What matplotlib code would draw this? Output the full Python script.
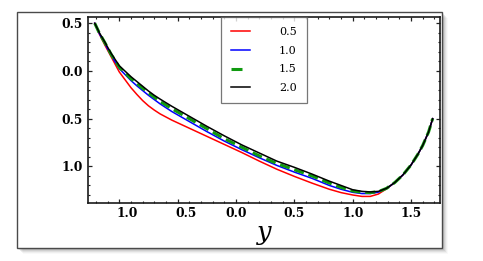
import matplotlib
matplotlib.use("Agg")
import matplotlib.pyplot as plt
from matplotlib.patches import Rectangle
from matplotlib.ticker import MultipleLocator
import matplotlib.transforms as mtransforms

# ---------------- data ----------------
x = [-1.21, -1.17, -1.125, -1.07, -1.0, -0.9, -0.85, -0.8, -0.75, -0.7, -0.65, -0.55,
     -0.4, -0.25, -0.1, 0.05, 0.2, 0.35, 0.5, 0.65, 0.8, 0.9, 1.0, 1.08, 1.15, 1.22,
     1.29, 1.36, 1.43, 1.5, 1.56, 1.6, 1.65, 1.685]

y_05 = [0.50, 0.385, 0.275, 0.15, -0.01, -0.175, -0.245, -0.31, -0.365, -0.41, -0.45, -0.515,
        -0.60, -0.685, -0.77, -0.855, -0.945, -1.03, -1.105, -1.175, -1.24, -1.275, -1.30,
        -1.315, -1.315, -1.29, -1.235, -1.17, -1.09, -0.985, -0.87, -0.78, -0.64, -0.50]
y_10 = [0.50, 0.39, 0.29, 0.165, 0.025, -0.10, -0.155, -0.205, -0.255, -0.30, -0.345, -0.425,
        -0.53, -0.635, -0.735, -0.825, -0.91, -0.99, -1.06, -1.125, -1.20, -1.24, -1.272,
        -1.285, -1.285, -1.27, -1.232, -1.17, -1.09, -0.985, -0.87, -0.78, -0.64, -0.50]
y_15 = [0.50, 0.395, 0.30, 0.175, 0.04, -0.08, -0.13, -0.18, -0.23, -0.275, -0.32, -0.395,
        -0.50, -0.605, -0.71, -0.80, -0.89, -0.97, -1.035, -1.10, -1.175, -1.22, -1.258,
        -1.272, -1.275, -1.265, -1.23, -1.17, -1.09, -0.985, -0.87, -0.78, -0.64, -0.50]
y_20 = [0.50, 0.40, 0.305, 0.185, 0.055, -0.06, -0.11, -0.16, -0.21, -0.255, -0.295, -0.37,
        -0.475, -0.58, -0.68, -0.775, -0.86, -0.945, -1.01, -1.08, -1.155, -1.20, -1.245,
        -1.262, -1.268, -1.262, -1.23, -1.17, -1.09, -0.985, -0.87, -0.78, -0.64, -0.50]

series_labels = ["0.5", "1.0", "1.5", "2.0"]
x_ticks = [-1.0, -0.5, 0.0, 0.5, 1.0, 1.5]
x_ticklabels = ["1.0", "0.5", "0.0", "0.5", "1.0", "1.5"]
y_ticks = [0.5, 0.0, -0.5, -1.0]
y_ticklabels = ["0.5", "0.0", "0.5", "1.0"]
x_label = "y"

# ---------------- figure ----------------
W, H = 483, 261
fig = plt.figure(figsize=(W / 100, H / 100), dpi=100)
fig.patch.set_facecolor("white")

# outer frame with soft shadow
fx0, fy0, fx1, fy1 = 16.7, 12.3, 441.7, 248.3
for i, a in enumerate([0.10, 0.09, 0.08, 0.06, 0.04, 0.025]):
    off = i + 1
    fig.patches.append(Rectangle(((fx0 + off) / W, 1 - (fy1 + off) / H),
                                 (fx1 - fx0) / W, (fy1 - fy0) / H,
                                 transform=fig.transFigure, facecolor="black",
                                 edgecolor="none", alpha=a, zorder=-20))
fig.patches.append(Rectangle((fx0 / W, 1 - fy1 / H), (fx1 - fx0) / W, (fy1 - fy0) / H,
                             transform=fig.transFigure, facecolor="white",
                             edgecolor="#4a4a4a", linewidth=1.0, zorder=-10))

ax = fig.add_axes([88 / W, 1 - 203 / H, 352 / W, (203 - 16.7) / H])
ax.set_zorder(1)

ax.plot(x, y_05, color="#ff0000", lw=1.1, label=series_labels[0])
ax.plot(x, y_10, color="#0000ff", lw=1.1, label=series_labels[1])
ax.plot(x, y_15, color="#109a10", lw=2.2, dashes=(3.3, 1.6), label=series_labels[2])
ax.plot(x, y_20, color="black", lw=1.1, label=series_labels[3])

ax.set_xlim(-1.268, 1.748)
ax.set_ylim(-1.384, 0.569)

ax.set_xticks(x_ticks)
ax.set_xticklabels(x_ticklabels)
ax.set_yticks(y_ticks)
ax.set_yticklabels(y_ticklabels)
ax.xaxis.set_minor_locator(MultipleLocator(0.1))
ax.yaxis.set_minor_locator(MultipleLocator(0.1))

tick_font = dict(family="DejaVu Serif", weight="bold", size=8.8)
for lab in ax.get_xticklabels() + ax.get_yticklabels():
    lab.set_fontproperties(tick_font)

ax.tick_params(which="both", direction="in", top=True, right=True, color="#222222")
ax.tick_params(which="major", length=3.2, width=0.9)
ax.tick_params(which="minor", length=1.6, width=0.8)
ax.tick_params(axis="x", pad=3.2)
ax.tick_params(axis="y", pad=3.6)

# labels of negative ticks lose their minus sign; keep their shifted position
shift = mtransforms.ScaledTranslation(8 / 100, 0, fig.dpi_scale_trans)
for val, lab in zip(x_ticks, ax.get_xticklabels()):
    if val < 0:
        lab.set_transform(lab.get_transform() + shift)

for sp in ax.spines.values():
    sp.set_color("#1a1a1a")
    sp.set_linewidth(1.2)

fig.text(264 / W, 1 - 240.3 / H, x_label, ha="center", va="baseline",
         family="DejaVu Serif", style="italic", size=18.5)

leg = ax.legend(loc="upper left", bbox_to_anchor=(0.377, 1.0), borderaxespad=0,
                prop=dict(family="DejaVu Serif", size=8.0), fancybox=False,
                frameon=True, edgecolor="#555555", handlelength=1.75,
                handletextpad=2.6, labelspacing=0.8, borderpad=0.9)
leg.get_frame().set_linewidth(0.9)
leg.get_lines()[2].set_linestyle((0, (3.6, 12)))

fig.savefig("out.png", dpi=100)
